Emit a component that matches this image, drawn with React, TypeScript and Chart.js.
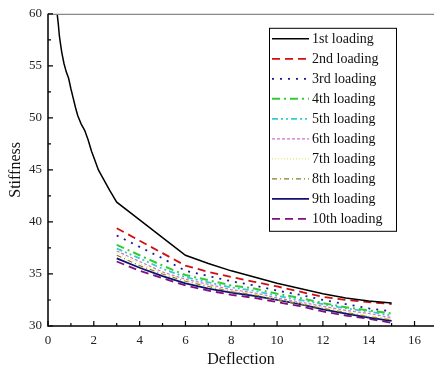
import React, { useEffect, useRef } from "react";
import { Chart, registerables } from "chart.js";

Chart.register(...registerables);

const firstX = [0.4, 0.45, 0.5, 0.6, 0.7, 0.8, 0.9, 1.0, 1.1, 1.2, 1.3, 1.45, 1.6, 1.75, 1.9, 2.05, 2.2, 2.35, 2.5, 2.7, 3, 4, 5, 6, 7, 8, 9, 10, 11, 12, 13, 14, 15];
const firstY = [60, 59.0, 57.8, 56.3, 55.2, 54.4, 53.8, 52.8, 51.9, 51.0, 50.2, 49.4, 48.8, 47.9, 46.8, 45.9, 45.0, 44.4, 43.8, 43.0, 41.9, 40.2, 38.5, 36.8, 36.0, 35.3, 34.7, 34.1, 33.6, 33.1, 32.7, 32.4, 32.2];

const laterX = [3, 4, 5, 6, 7, 8, 9, 10, 11, 12, 13, 14, 15];
const second = [39.4, 38.2, 37.0, 35.8, 35.2, 34.7, 34.25, 33.8, 33.3, 32.8, 32.5, 32.3, 32.1];
const third = [38.7, 37.6, 36.5, 35.3, 34.8, 34.3, 33.9, 33.4, 33.0, 32.5, 32.1, 31.7, 31.4];
const fourth = [37.8, 36.8, 35.8, 34.9, 34.4, 33.9, 33.6, 33.1, 32.7, 32.2, 31.8, 31.5, 31.2];
const fifth = [37.45, 36.5, 35.5, 34.7, 34.2, 33.7, 33.4, 32.9, 32.5, 32.1, 31.7, 31.4, 31.0];
const sixth = [37.2, 36.2, 35.2, 34.5, 34.0, 33.5, 33.2, 32.7, 32.3, 31.9, 31.5, 31.2, 30.8];
const seventh = [37.0, 36.0, 35.1, 34.4, 33.9, 33.4, 33.1, 32.6, 32.2, 31.8, 31.4, 31.0, 30.7];
const eighth = [36.8, 35.8, 35.0, 34.3, 33.8, 33.3, 33.0, 32.5, 32.1, 31.7, 31.3, 30.9, 30.6];
const ninth = [36.5, 35.6, 34.8, 34.1, 33.6, 33.2, 32.9, 32.5, 32.1, 31.6, 31.2, 30.8, 30.5];
const tenth = [36.2, 35.3, 34.6, 33.9, 33.4, 33.0, 32.7, 32.3, 31.9, 31.4, 31.0, 30.7, 30.3];

const seriesLabels = ["1st loading", "2nd loading", "3rd loading", "4th loading", "5th loading", "6th loading", "7th loading", "8th loading", "9th loading", "10th loading"];
const seriesColors = ["#000000", "#d01010", "#1a1aa0", "#33cc33", "#33cccc", "#d070d0", "#e8e870", "#808020", "#101070", "#801080"];
const seriesDash: number[][] = [[], [8, 5], [2, 6], [8, 4, 2, 4], [6, 3, 2, 3, 2, 3], [3, 2], [1, 2], [5, 3, 1, 3], [], [8, 5]];
const seriesWidth = [1.5, 1.8, 1.8, 2, 1.8, 1.2, 1.2, 1.2, 1.8, 1.8];

const xTickValues = [0, 2, 4, 6, 8, 10, 12, 14, 16];
const yTickValues = [30, 35, 40, 45, 50, 55, 60];

const FONT = "'Liberation Serif', 'DejaVu Serif', serif";

const extrasPlugin = {
  id: "extras",
  afterDatasetsDraw(chart: any) {
    const { ctx, chartArea, scales } = chart;
    const xs = scales.x;
    const ys = scales.y;
    ctx.save();
    ctx.strokeStyle = "#888888";
    ctx.lineWidth = 1.2;
    ctx.beginPath();
    ctx.moveTo(chartArea.left, chartArea.top + 0.5);
    ctx.lineTo(chartArea.right, chartArea.top + 0.5);
    ctx.stroke();
    ctx.strokeStyle = "#000000";
    ctx.lineWidth = 1.5;
    ctx.beginPath();
    ctx.moveTo(chartArea.left, chartArea.top);
    ctx.lineTo(chartArea.left, chartArea.bottom);
    ctx.lineTo(chartArea.right, chartArea.bottom);
    ctx.stroke();
    ctx.lineWidth = 1.2;
    ctx.beginPath();
    for (let v = 0; v <= 16; v += 1) {
      const px = xs.getPixelForValue(v);
      const len = v % 2 === 0 ? 5 : 3;
      ctx.moveTo(px, chartArea.bottom);
      ctx.lineTo(px, chartArea.bottom - len);
    }
    for (let v = 30; v <= 60; v += 2.5) {
      const py = ys.getPixelForValue(v);
      const len = v % 5 === 0 ? 5 : 3;
      ctx.moveTo(chartArea.left, py);
      ctx.lineTo(chartArea.left + len, py);
    }
    ctx.stroke();

    const bx = chartArea.left + 221;
    const by = chartArea.top + 14;
    const bw = 127;
    const bh = 203;
    ctx.fillStyle = "#ffffff";
    ctx.fillRect(bx, by, bw, bh);
    ctx.strokeStyle = "#000000";
    ctx.lineWidth = 1;
    ctx.strokeRect(bx + 0.5, by + 0.5, bw, bh);
    ctx.font = "14px " + FONT;
    ctx.textBaseline = "middle";
    ctx.textAlign = "left";
    chart.data.datasets.forEach((ds: any, i: number) => {
      const cy = by + 11 + i * 20;
      ctx.strokeStyle = ds.borderColor;
      ctx.lineWidth = ds.borderWidth;
      ctx.setLineDash(ds.borderDash || []);
      ctx.beginPath();
      ctx.moveTo(bx + 3, cy);
      ctx.lineTo(bx + 40, cy);
      ctx.stroke();
      ctx.setLineDash([]);
      ctx.fillStyle = "#111111";
      ctx.fillText(ds.label, bx + 43, cy + 1);
    });
    ctx.restore();
  },
};

export default function App() {
  const canvasRef = useRef<HTMLCanvasElement | null>(null);
  useEffect(() => {
    document.body.style.margin = "0";
    const canvas = canvasRef.current;
    if (!canvas) return;
    const allY = [firstY, second, third, fourth, fifth, sixth, seventh, eighth, ninth, tenth];
    const datasets = seriesLabels.map((label, i) => {
      const xsArr = i === 0 ? firstX : laterX;
      const ysArr = allY[i];
      return {
        label,
        data: xsArr.map((x, j) => ({ x, y: ysArr[j] })),
        borderColor: seriesColors[i],
        backgroundColor: seriesColors[i],
        borderDash: seriesDash[i],
        borderWidth: seriesWidth[i],
        pointRadius: 0,
        tension: 0,
        fill: false,
      };
    });
    const chart = new Chart(canvas, {
      type: "line",
      data: { datasets },
      options: {
        animation: false,
        responsive: false,
        maintainAspectRatio: false,
        layout: { padding: { top: 13, right: 0, left: 0, bottom: 0 } },
        plugins: { legend: { display: false }, tooltip: { enabled: false } },
        scales: {
          x: {
            type: "linear",
            min: 0,
            max: 16.85,
            afterBuildTicks: (scale: any) => {
              scale.ticks = xTickValues.map((v) => ({ value: v }));
            },
            afterFit: (scale: any) => {
              scale.height = 43;
            },
            grid: { display: false, drawTicks: false },
            border: { display: false },
            ticks: {
              color: "#222222",
              font: { family: FONT, size: 13 },
              padding: 7,
              maxRotation: 0,
            },
            title: {
              display: true,
              text: "Deflection",
              color: "#111111",
              font: { family: FONT, size: 16 },
              padding: { top: 0, bottom: 0 },
            },
          },
          y: {
            type: "linear",
            min: 30,
            max: 60,
            afterBuildTicks: (scale: any) => {
              scale.ticks = yTickValues.map((v) => ({ value: v }));
            },
            afterFit: (scale: any) => {
              scale.width = 48;
            },
            grid: { display: false, drawTicks: false },
            border: { display: false },
            ticks: {
              color: "#222222",
              font: { family: FONT, size: 13 },
              padding: 6,
            },
            title: {
              display: true,
              text: "Stiffness",
              color: "#111111",
              font: { family: FONT, size: 16 },
              padding: { top: 6, bottom: 0 },
            },
          },
        },
      },
      plugins: [extrasPlugin],
    } as any);
    return () => chart.destroy();
  }, []);
  return (
    <div style={{ width: 434, height: 369, background: "#ffffff" }}>
      <canvas ref={canvasRef} width={434} height={369} style={{ display: "block" }} />
    </div>
  );
}
